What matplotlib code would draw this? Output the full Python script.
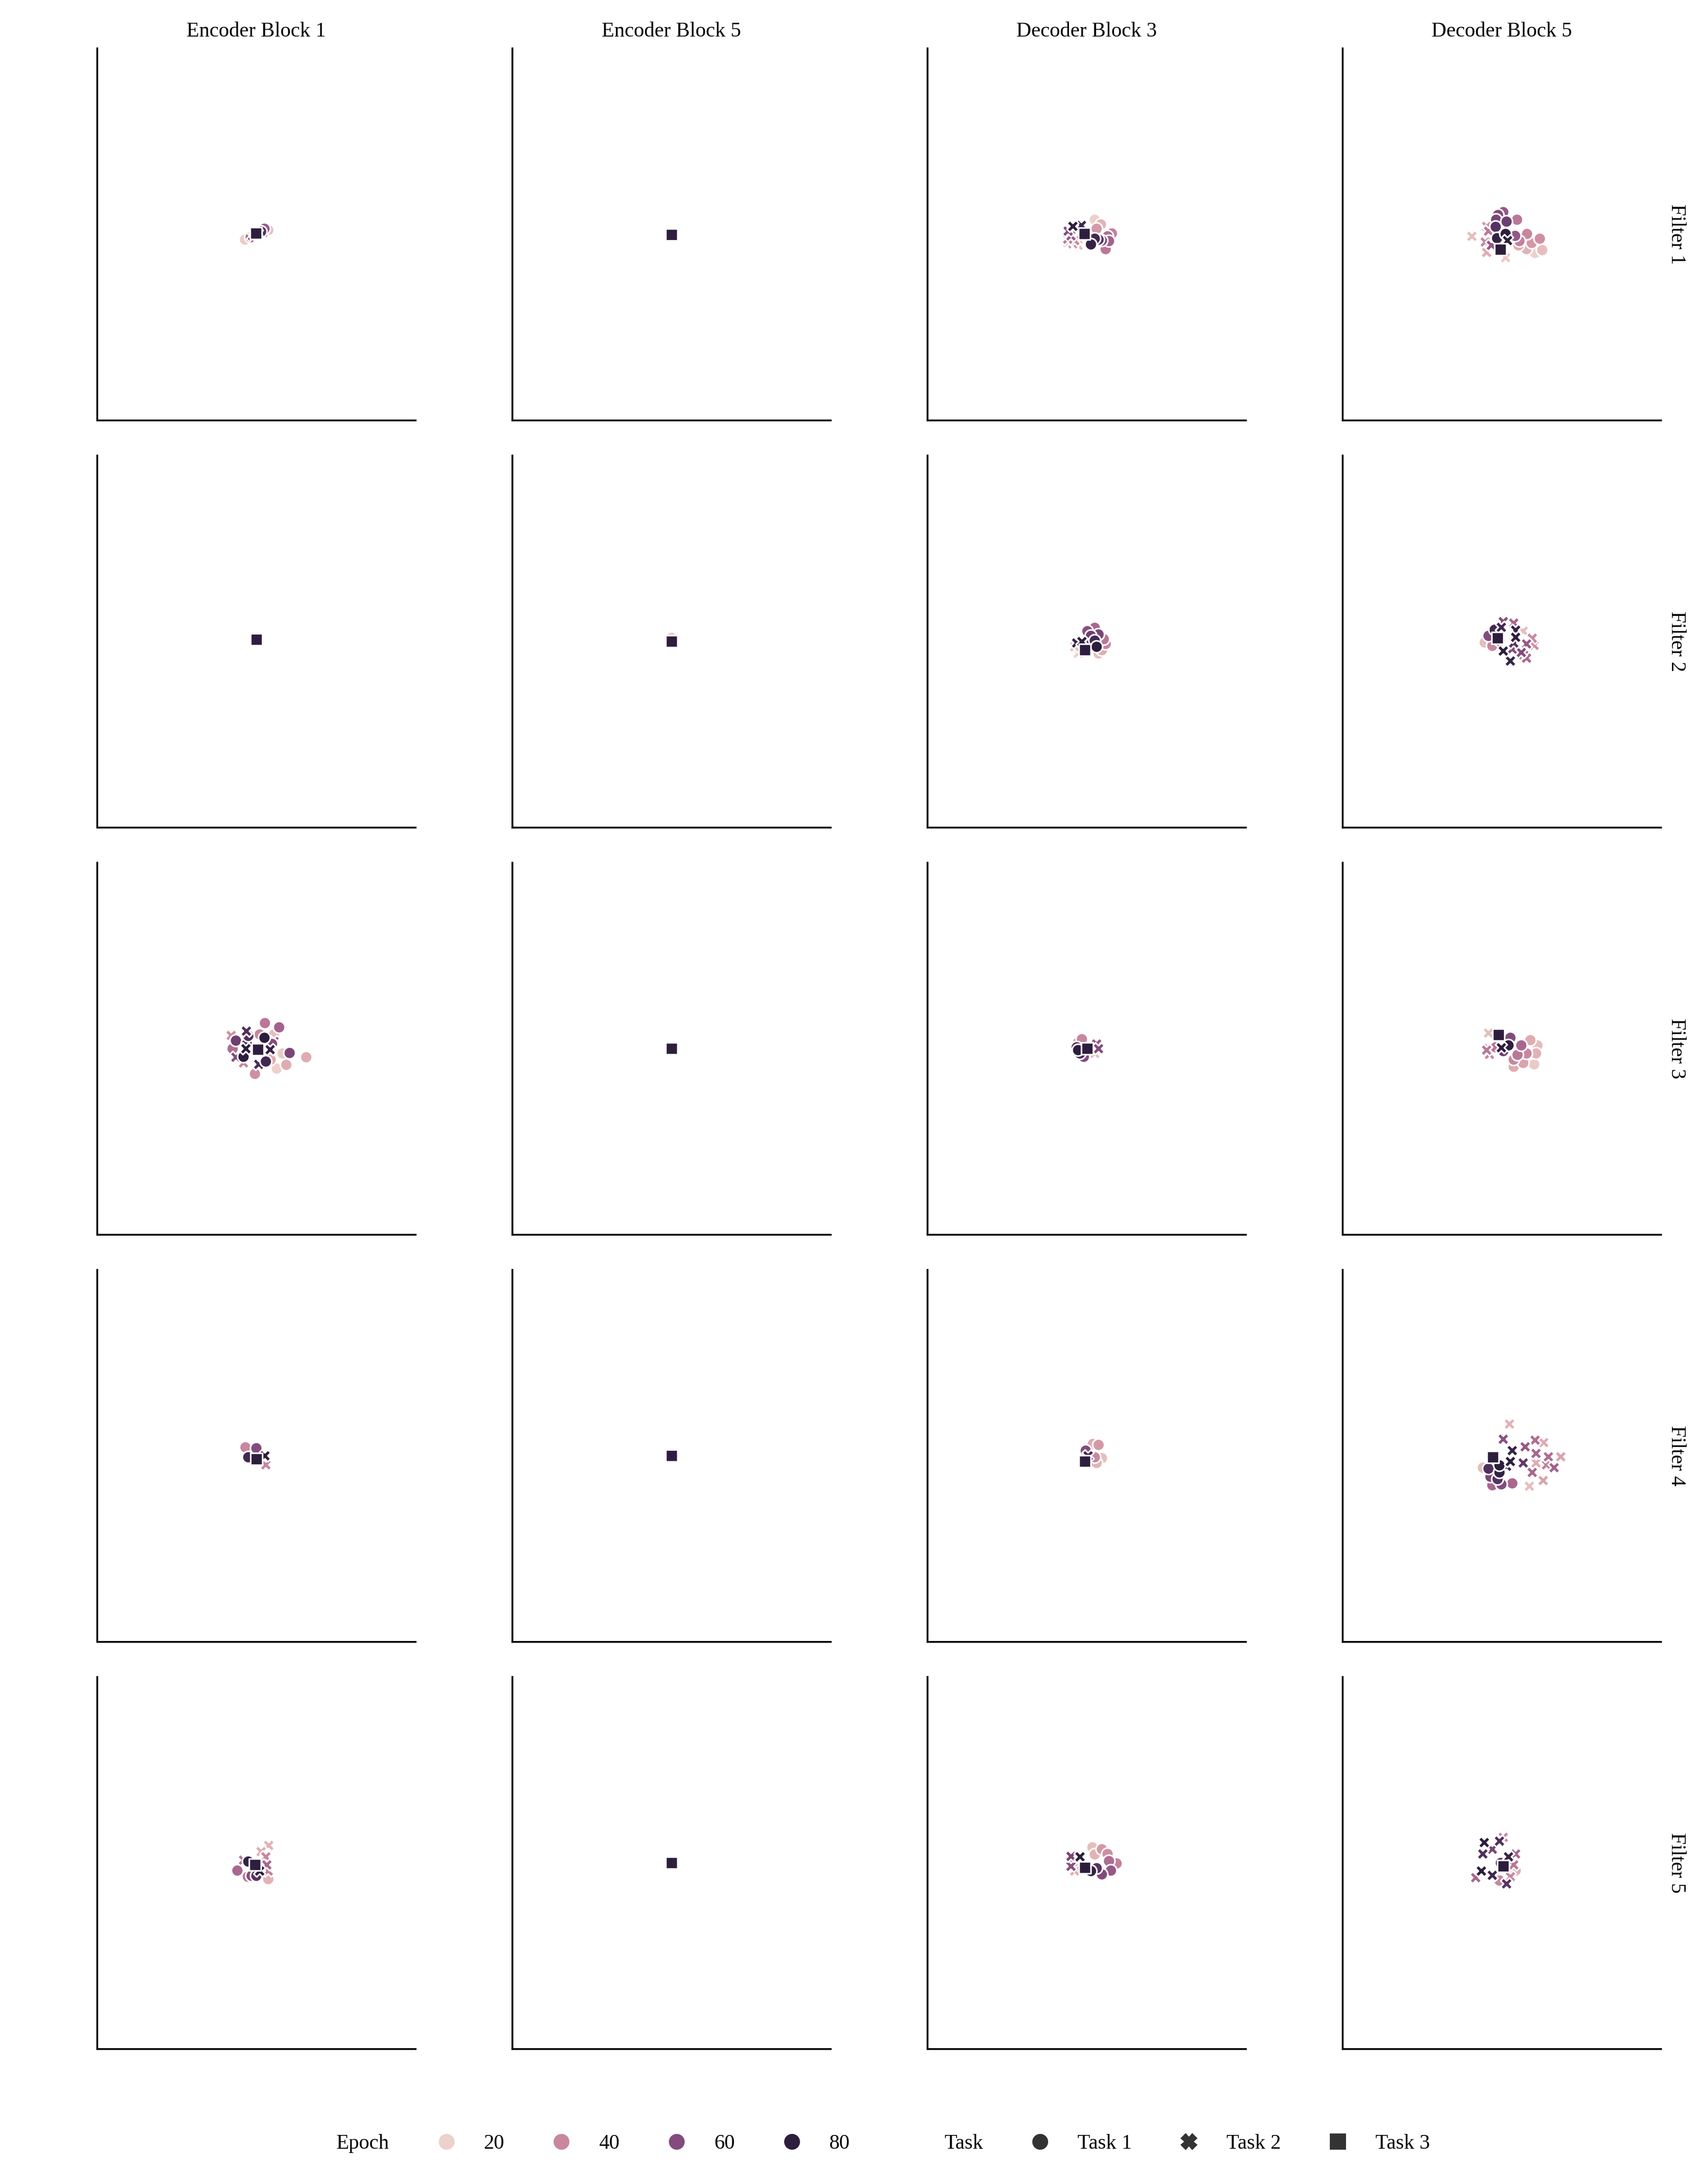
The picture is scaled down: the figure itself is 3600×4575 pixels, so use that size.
import numpy as np
import matplotlib
matplotlib.use("Agg")
import matplotlib.pyplot as plt
from matplotlib.lines import Line2D
from matplotlib.markers import MarkerStyle
import seaborn as sns

# columnas / filas de la grilla
blocks = ["Encoder Block 1", "Encoder Block 5", "Decoder Block 3", "Decoder Block 5"]
filters = ["Filter 1", "Filter 2", "Filter 3", "Filter 4", "Filter 5"]
epoch_ticks = [20, 40, 60, 80]
tasks = ["Task 1", "Task 2", "Task 3"]

# puntos de cada panel: (task, x, y, epoch)
e1_f1 = [(1, -2.4, -1.1, 21), (1, 2.5, 0.9, 24), (1, 1.7, 1.2, 55), (1, -1.2, -0.6, 50),
         (1, 1.0, 0.6, 70), (1, -0.3, 0.1, 78),
         (2, 1.4, 0.4, 40), (2, -0.8, -0.3, 62), (2, 0.2, 0.2, 76),
         (3, -0.1, 0.3, 80)]
e5_f1 = [(1, 0.0, 0.3, 25), (1, 0.1, -0.1, 60), (1, 0.0, 0.0, 78),
         (2, -0.1, 0.1, 40), (2, 0.1, 0.0, 75), (3, 0.0, 0.0, 80)]
d3_f1 = [(1, 1.7, 3.1, 20), (1, 3.0, 2.1, 28), (1, 2.1, 1.2, 35), (1, 5.3, 0.2, 42),
         (1, 4.4, -0.4, 48), (1, 4.7, -1.4, 52), (1, 4.0, -3.1, 45), (1, 3.2, -1.3, 60),
         (1, 2.5, -1.1, 70), (1, 0.9, -2.1, 78), (1, 1.7, -0.9, 75),
         (2, -2.9, 1.7, 80), (2, -1.1, 1.9, 76), (2, -3.9, 0.7, 60), (2, -3.3, -0.3, 55),
         (2, -4.0, -1.0, 45), (2, -2.9, -2.0, 35), (2, -1.8, -2.3, 25), (2, -2.5, -1.3, 40),
         (2, -4.0, -1.7, 22),
         (3, -0.5, 0.2, 80)]
d5_f1 = [(1, 0.3, 4.7, 55), (1, -0.8, 4.1, 60), (1, 3.2, 3.1, 45), (1, -1.2, 3.1, 62),
         (1, 1.0, 2.7, 65), (1, -1.3, 1.6, 70), (1, 2.8, -0.3, 55), (1, 0.8, 0.1, 80),
         (1, -1.0, -0.8, 78), (1, 5.3, 0.1, 40), (1, 8.0, -0.9, 38), (1, 6.3, -1.8, 35),
         (1, 3.7, -1.4, 42), (1, 5.2, -3.1, 28), (1, 8.5, -3.3, 25), (1, 7.0, -3.9, 20),
         (1, 3.5, -2.3, 30),
         (2, -6.3, -0.4, 25), (2, 0.8, -4.9, 22), (2, -3.2, 1.7, 35), (2, -3.5, -1.6, 40),
         (2, -2.8, 0.7, 45), (2, -2.2, -2.3, 55), (2, -3.2, -3.8, 30), (2, 0.2, -1.0, 75),
         (2, 1.2, -1.3, 80),
         (3, -0.3, -3.1, 80)]

e1_f2 = [(1, 0.0, 0.6, 25), (1, 0.1, 0.3, 60), (1, 0.0, 0.4, 78),
         (2, -0.1, 0.4, 40), (2, 0.1, 0.4, 75), (3, 0.0, 0.4, 80)]
e5_f2 = [(1, 0.0, 0.8, 22), (1, 0.1, -0.1, 60), (1, 0.0, 0.0, 78),
         (2, -0.1, 0.1, 40), (2, 0.1, 0.0, 75), (3, 0.0, 0.0, 80)]
d3_f2 = [(1, 1.7, 2.9, 50), (1, 0.15, 2.2, 58), (1, 2.5, 1.5, 62), (1, 3.6, 0.5, 45),
         (1, 4.0, -0.5, 40), (1, 1.7, 0.2, 75), (1, 2.1, -1.1, 80), (1, 0.9, -0.6, 72),
         (1, 2.5, -2.5, 25), (1, 3.2, -1.8, 30), (1, 0.9, 1.2, 65),
         (2, -1.0, 0.0, 80), (2, -2.1, -0.3, 78), (2, -2.5, -1.1, 25), (2, -1.8, -2.5, 20),
         (3, -0.4, -1.8, 80)]
d5_f2 = [(1, -2.8, 1.2, 60), (1, -3.6, -0.2, 25), (1, -2.0, -0.9, 40), (1, -1.5, 2.5, 75),
         (1, -0.5, 0.2, 80),
         (2, 0.3, 4.2, 60), (2, 2.5, 3.9, 50), (2, -0.1, 3.0, 75), (2, 2.9, 2.4, 78),
         (2, 4.5, 2.2, 25), (2, 2.9, 0.9, 80), (2, 6.4, 0.7, 40), (2, 6.8, -0.8, 38),
         (2, 5.2, -0.5, 55), (2, 2.5, -0.3, 70), (2, 0.3, -2.0, 80), (2, 2.2, -1.6, 60),
         (2, 4.1, -2.3, 60), (2, 4.8, -1.8, 48), (2, 1.8, -4.1, 78), (2, 4.5, -2.8, 45),
         (2, 5.2, -3.5, 50),
         (3, -0.9, 0.7, 80)]

e1_f3 = [(1, 1.8, 5.4, 45), (1, 4.8, 4.5, 52), (1, -4.3, 1.7, 65), (1, -1.7, 2.7, 72),
         (1, 1.7, 2.3, 80), (1, 0.7, 3.0, 40), (1, 3.7, 3.0, 25), (1, 7.0, -0.9, 62),
         (1, 10.5, -1.8, 30), (1, 5.5, -1.0, 22), (1, 6.3, -3.4, 30), (1, 4.3, -4.2, 20),
         (1, -0.3, -5.3, 38), (1, -2.7, -1.7, 80), (1, 2.0, -2.7, 75), (1, -5.0, 0.0, 48),
         (1, 3.0, -2.3, 30), (1, 3.3, 1.0, 60), (1, -2.0, 1.0, 70),
         (2, -2.1, 3.7, 72), (2, -2.2, 0.0, 80), (2, 2.9, -0.2, 78), (2, 0.5, -3.3, 74),
         (2, 3.7, 1.5, 55), (2, -4.3, -1.8, 60), (2, -2.7, -3.0, 40), (2, -5.3, 2.8, 38),
         (3, 0.3, -0.2, 80)]
e5_f3 = [(1, 0.0, 0.3, 25), (1, 0.1, -0.1, 60), (1, 0.0, 0.0, 78),
         (2, -0.1, 0.1, 40), (2, 0.1, 0.0, 75), (3, 0.0, 0.0, 80)]
d3_f3 = [(1, -1.0, 2.0, 40), (1, -1.8, 1.3, 35), (1, -1.8, -0.3, 80), (1, -1.4, -1.0, 75),
         (1, -0.6, -1.7, 60), (1, -2.1, 0.3, 70),
         (2, 2.1, 1.0, 55), (2, 2.5, 0.0, 60), (2, 1.7, -1.0, 25),
         (3, 0.15, 0.0, 80)]
d5_f3 = [(1, 1.8, 2.3, 60), (1, 1.4, 0.7, 80), (1, 4.1, 0.7, 50), (1, 6.0, 1.8, 30),
         (1, 7.5, 0.7, 25), (1, 7.2, -1.0, 28), (1, 5.2, -1.0, 40), (1, 3.3, -1.3, 45),
         (1, 2.5, -2.3, 40), (1, 4.5, -3.0, 32), (1, 2.5, -3.8, 30), (1, 6.8, -3.3, 22),
         (1, 0.3, -0.5, 65), (1, -1.3, 0.3, 45),
         (2, -2.8, 0.0, 40), (2, -3.2, -0.3, 45), (2, -2.6, -1.2, 40), (2, -2.8, 3.3, 25),
         (2, -0.1, 0.2, 80),
         (3, -0.7, 2.9, 80)]

e1_f4 = [(1, -2.3, 1.8, 40), (1, 0.0, 1.6, 60), (1, -1.3, 0.8, 25), (1, -1.7, -0.3, 75),
         (1, 0.5, 0.3, 50),
         (2, 1.8, 0.0, 80), (2, 2.0, -1.9, 40),
         (3, 0.0, -0.7, 80)]
e5_f4 = [(1, 0.0, 0.3, 25), (1, 0.1, -0.1, 60), (1, 0.0, 0.0, 78),
         (2, -0.1, 0.1, 40), (2, 0.1, 0.0, 75), (3, 0.0, 0.0, 80)]
d3_f4 = [(1, 1.3, 2.5, 30), (1, 2.5, 2.3, 35), (1, -0.2, 1.1, 60), (1, 0.5, 1.7, 22),
         (1, 3.2, -0.5, 25), (1, 2.1, -1.5, 28), (1, 1.7, -0.3, 40),
         (2, 0.3, 0.0, 75), (2, -0.5, -0.8, 50),
         (3, -0.4, -1.2, 80)]
d5_f4 = [(1, -4.0, -2.5, 25), (1, -0.5, -2.0, 80), (1, -0.5, -3.5, 78), (1, -2.4, -4.4, 62),
         (1, -2.0, -6.2, 50), (1, -0.1, -6.0, 60), (1, 2.2, -5.8, 50), (1, -0.9, -4.9, 70),
         (1, -2.8, -2.7, 72),
         (2, 1.6, 6.7, 28), (2, 0.3, 3.5, 58), (2, 7.0, 3.3, 48), (2, 8.8, 2.8, 30),
         (2, 2.2, 1.1, 78), (2, 4.9, 1.9, 55), (2, 7.2, 0.5, 50), (2, 9.8, -0.2, 48),
         (2, 12.4, -0.2, 32), (2, 4.5, -1.5, 68), (2, 1.8, -1.2, 80), (2, 1.0, -2.2, 75),
         (2, 11.0, -2.5, 52), (2, 6.4, -3.5, 50), (2, 8.7, -5.2, 32), (2, 5.8, -6.4, 25),
         (2, 9.4, -1.9, 42), (2, 7.2, -1.5, 30),
         (3, -1.9, -0.3, 80)]

e1_f5 = [(1, -4.0, -1.6, 50), (1, 2.5, -3.4, 28), (1, -1.7, 0.3, 78), (1, -1.0, -2.7, 60),
         (1, 0.0, -2.7, 70), (1, -1.8, -2.9, 45),
         (2, 2.6, 3.7, 28), (2, 1.0, 2.4, 30), (2, 2.0, 1.3, 40), (2, 2.2, -0.4, 50),
         (2, 2.5, -1.7, 42), (2, -2.7, 0.6, 45), (2, 0.7, -1.7, 80),
         (3, -0.3, -0.4, 80)]
e5_f5 = [(1, 0.0, 0.3, 25), (1, 0.1, -0.1, 60), (1, 0.0, 0.0, 78),
         (2, -0.1, 0.1, 40), (2, 0.1, 0.0, 75), (3, 0.0, 0.0, 80)]
d3_f5 = [(1, 1.2, 3.3, 25), (1, 3.2, 2.9, 35), (1, 4.4, 1.9, 38), (1, 1.7, 1.8, 28),
         (1, 6.3, -0.1, 42), (1, 4.7, 0.4, 48), (1, 5.1, -1.6, 55), (1, 3.2, -2.4, 60),
         (1, 0.9, -1.7, 78), (1, 2.1, -1.1, 70),
         (2, -1.4, 1.3, 80), (2, -3.3, 1.4, 62), (2, -3.3, -0.7, 58), (2, -2.9, 0.3, 45),
         (2, -2.5, -1.7, 30),
         (3, -0.4, -1.0, 80)]
d5_f5 = [(1, 2.9, -1.6, 30), (1, -0.5, -3.7, 40), (1, -0.2, 0.0, 70),
         (2, -3.7, 4.3, 80), (2, -0.5, 4.6, 72), (2, -2.0, 2.9, 62), (2, -4.0, 1.9, 72),
         (2, 1.4, 1.3, 78), (2, 2.9, 1.9, 50), (2, -4.3, -1.7, 80), (2, -2.0, -2.6, 76),
         (2, 1.0, -4.4, 70), (2, -5.5, -3.1, 50), (2, 2.5, -0.4, 45), (2, 0.3, 5.4, 40),
         (2, 1.8, -2.9, 40),
         (3, 0.3, -0.7, 80)]

panels = [[e1_f1, e5_f1, d3_f1, d5_f1],
          [e1_f2, e5_f2, d3_f2, d5_f2],
          [e1_f3, e5_f3, d3_f3, d5_f3],
          [e1_f4, e5_f4, d3_f4, d5_f4],
          [e1_f5, e5_f5, d3_f5, d5_f5]]

plt.rcParams['font.family'] = ['Liberation Serif', 'DejaVu Serif']
plt.rcParams['font.size'] = 10.5

cmap = sns.cubehelix_palette(as_cmap=True)
norm = plt.Normalize(20, 80)
markers = {1: 'o', 2: 'X', 3: 's'}


def marker_path(m):
    ms = MarkerStyle(m)
    return ms.get_path().transformed(ms.get_transform())


fig, axes = plt.subplots(5, 4, figsize=(12, 15.25), dpi=300, sharex=True, sharey=True)
fig.subplots_adjust(left=0.0569, right=0.9725, top=0.9777, bottom=0.0562,
                    wspace=0.304, hspace=0.0944)

for r in range(5):
    for c in range(4):
        ax = axes[r, c]
        pts = sorted(panels[r][c], key=lambda p: (p[3], p[0]))
        xs = [p[1] for p in pts]
        ys = [p[2] for p in pts]
        ep = [p[3] for p in pts]
        sc = ax.scatter(xs, ys, c=ep, cmap=cmap, norm=norm, s=36,
                        edgecolors='white', linewidths=0.8)
        sc.set_paths([marker_path(markers[p[0]]) for p in pts])
        ax.set_xlim(-33.5, 33.5)
        ax.set_ylim(-39.2, 39.2)
        ax.set_xticks([])
        ax.set_yticks([])
        ax.spines['top'].set_visible(False)
        ax.spines['right'].set_visible(False)
        ax.spines['left'].set_color('black')
        ax.spines['bottom'].set_color('black')
        ax.spines['left'].set_linewidth(0.9)
        ax.spines['bottom'].set_linewidth(0.9)
        if r == 0:
            ax.set_title(blocks[c], fontsize=10.5)
        if c == 3:
            ax.annotate(filters[r], xy=(1.02, 0.5), xycoords='axes fraction',
                        rotation=270, ha='left', va='center', fontsize=10.5)

# leyenda abajo
handles = [Line2D([], [], color='none')]
labels = ['Epoch']
for e in epoch_ticks:
    handles.append(Line2D([], [], linestyle='none', marker='o', markersize=7,
                          markerfacecolor=cmap(norm(e)), markeredgecolor=cmap(norm(e))))
    labels.append(str(e))
handles.append(Line2D([], [], color='none'))
labels.append('Task')
for i, t in enumerate(tasks):
    handles.append(Line2D([], [], linestyle='none', marker=markers[i + 1], markersize=7,
                          markerfacecolor='0.2', markeredgecolor='0.2'))
    labels.append(t)

fig.legend(handles, labels, loc='center', bbox_to_anchor=(0.5, 0.0127), ncol=9,
           frameon=False, columnspacing=1.75, fontsize=10.5)

plt.savefig('out.png', dpi=300)
